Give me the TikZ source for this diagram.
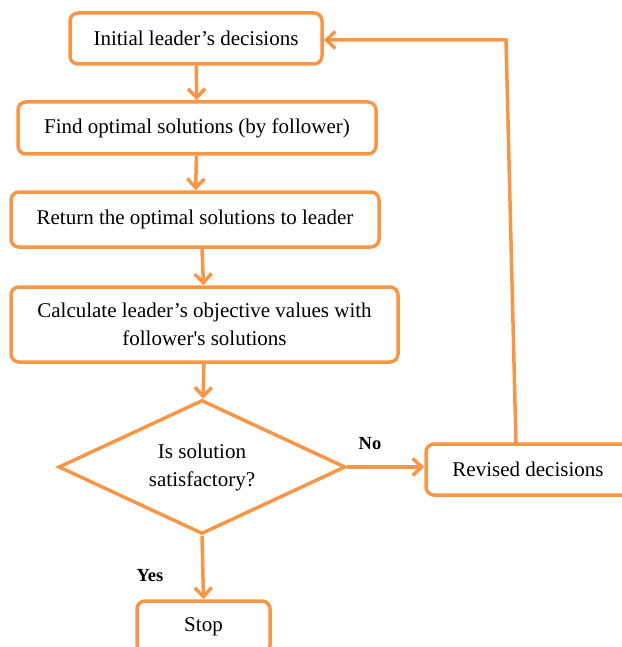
\documentclass[tikz,border=0pt]{standalone}
\usepackage{fontspec}
\setmainfont{Liberation Serif}
\usetikzlibrary{shapes.geometric, arrows.meta}
\definecolor{flow}{RGB}{247,150,70}

\begin{document}
\begin{tikzpicture} [x=1pt, y=-1pt, font=\fontsize{21}{28}\selectfont,
  box/.style={rectangle, rounded corners=8pt, draw=flow, line width=3.5pt, inner sep=0pt, align=center},
  test/.style={diamond, aspect=2.14, draw=flow, line width=3.5pt, inner sep=0pt, align=center, minimum width=287pt, minimum height=134pt},
  link/.style={draw=flow, line width=3.5pt, -{Straight Barb[length=9pt, width=17pt]}},
  tag/.style={font=\fontsize{18.5}{22}\selectfont\bfseries}]
\useasboundingbox (0,0) rectangle (621,647);
\node[box, minimum width=252pt, minimum height=51pt] (init) at (196,38.5) {Initial leader’s decisions};
\node[box, minimum width=358pt, minimum height=52pt] (find) at (197,128) {Find optimal solutions (by follower)};
\node[box, minimum width=368pt, minimum height=55pt] (ret) at (195,219.5) {Return the optimal solutions to leader};
\node[box, minimum width=387pt, minimum height=75pt] (calc) at (204.5,324.5) {Calculate leader’s objective values with\\follower\textquotesingle s solutions};
\node[test] (check) at (202,467) {Is solution\\satisfactory?};
\node[box, minimum width=204pt, minimum height=51pt] (revised) at (528,469.5) {Revised decisions};
\node[box, minimum width=133pt, minimum height=52pt] (stop) at (203.5,627) {Stop};
\coordinate (turn) at (506,40);
\coordinate (up) at (516,444);
\draw[link] (init) -- (find);
\draw[link] (find) -- (ret);
\draw[link] ([xshift=7pt]ret.south) -- ([xshift=-1pt]calc.north);
\draw[link] (calc) -- (check);
\draw[link] (check.east) -- (revised.west |- check.east);
\draw[link] (check.south) -- (stop.north);
\draw[link] (up) -- (turn) -- (init.east |- turn);
\node[tag] (no) at (370,444) {No};
\node[tag] (yes) at (150,576) {Yes};
\end{tikzpicture}
\end{document}
